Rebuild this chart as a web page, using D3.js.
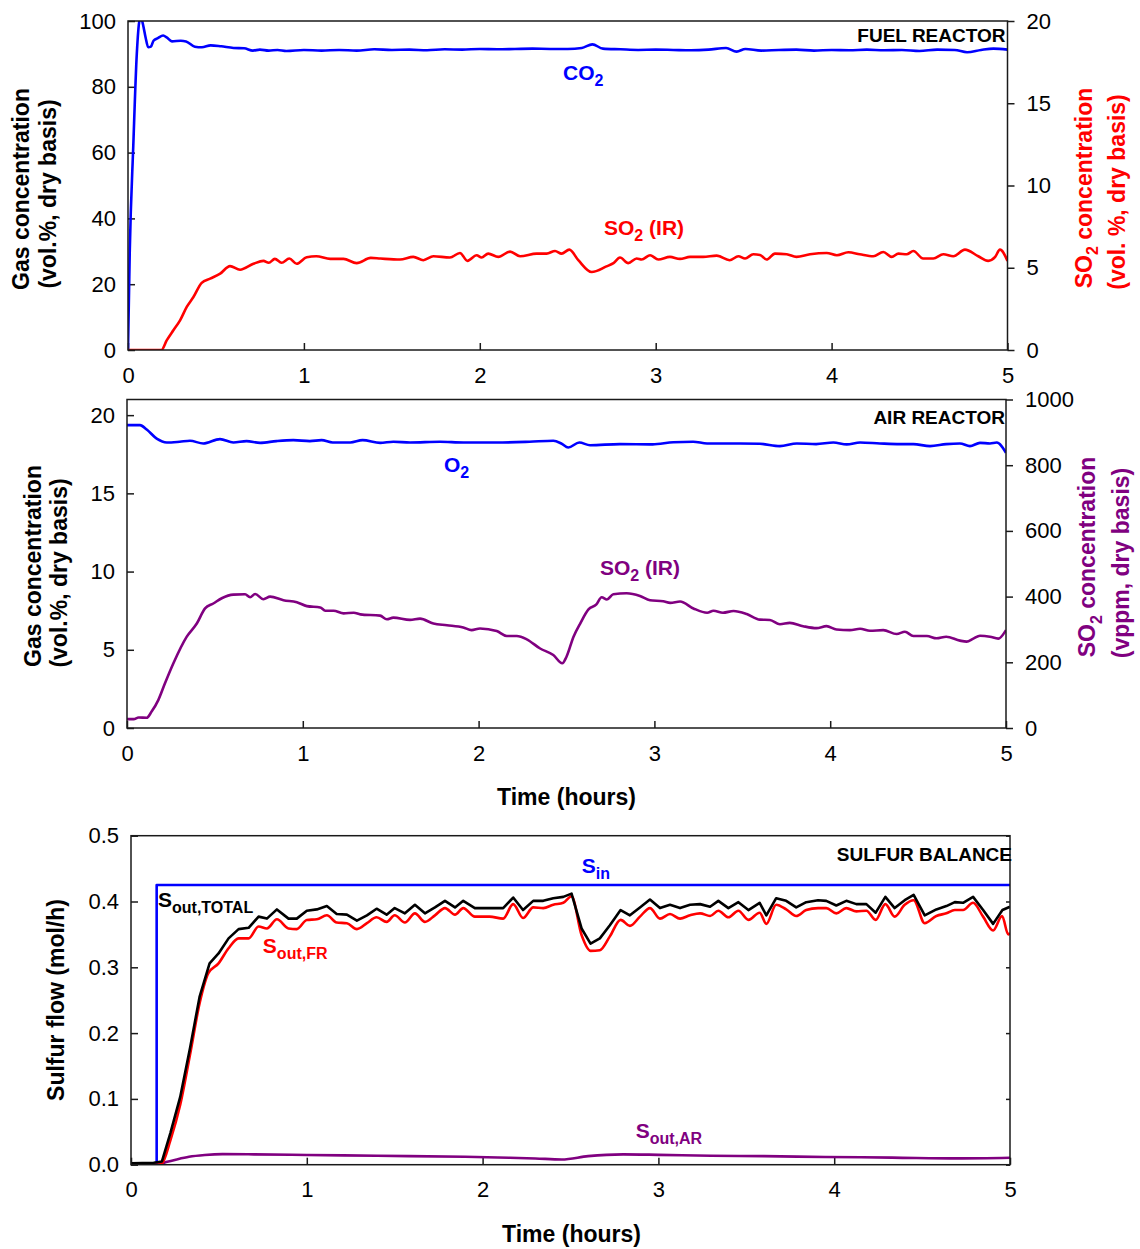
<!DOCTYPE html>
<html><head><meta charset="utf-8">
<script src="https://cdn.jsdelivr.net/npm/d3@7"></script>
<style>body{margin:0;background:#fff} svg{display:block}</style>
</head><body><svg id="c" width="1140" height="1249"></svg>
<script>
// ---------- DATA (time in hours) ----------
const xTicks = [0,1,2,3,4,5];
const fuelLeftTicks = [0,20,40,60,80,100];
const fuelRightTicks = [0,5,10,15,20];
const airLeftTicks = [0,5,10,15,20];
const airRightTicks = [0,200,400,600,800,1000];
const sulfurTicks = [0,0.1,0.2,0.3,0.4,0.5];

// Fuel reactor CO2 (vol.%, left axis)
const co2FR = [[0,0],[0.01,30],[0.03,62],[0.05,90],[0.065,100],[0.075,101],[0.085,99],[0.1,95],[0.115,92],[0.13,92.2],[0.145,94],[0.17,94.8],[0.2,95.6],[0.22,95],[0.25,93.8],[0.3,94],[0.33,93.8],[0.38,92.2],[0.42,92],[0.47,92.6],[0.53,92.3],[0.6,91.8],[0.66,91.7],[0.71,91.0],[0.75,91.3],[0.8,91.0],[0.85,91.2],[0.9,90.9],[1.0,91.2],[1.1,91.0],[1.2,91.2],[1.3,91.0],[1.4,91.4],[1.5,91.2],[1.6,91.3],[1.7,91.1],[1.8,91.4],[1.9,91.3],[2.0,91.5],[2.1,91.4],[2.2,91.5],[2.3,91.6],[2.4,91.5],[2.5,91.5],[2.58,91.8],[2.64,92.9],[2.7,91.6],[2.8,91.4],[2.9,91.2],[3.0,91.3],[3.1,91.2],[3.2,91.1],[3.3,91.3],[3.4,91.8],[3.46,90.7],[3.51,91.5],[3.6,91.0],[3.7,91.2],[3.8,91.3],[3.9,91.0],[4.0,91.2],[4.1,91.1],[4.2,91.3],[4.3,91.1],[4.4,91.2],[4.5,90.9],[4.6,91.3],[4.7,91.2],[4.77,90.5],[4.85,91.2],[4.92,91.6],[5.0,91.3]];
// Fuel reactor SO2 (vol.%, right axis)
const so2FR = [[0,0],[0.19,0],[0.22,0.58],[0.258,1.2],[0.296,1.8],[0.334,2.62],[0.372,3.22],[0.419,4.08],[0.467,4.34],[0.524,4.64],[0.58,5.1],[0.637,4.88],[0.713,5.24],[0.77,5.42],[0.8,5.3],[0.835,5.54],[0.873,5.3],[0.917,5.56],[0.959,5.24],[1.016,5.64],[1.07,5.7],[1.15,5.54],[1.225,5.54],[1.3,5.28],[1.38,5.6],[1.435,5.56],[1.546,5.5],[1.622,5.66],[1.679,5.46],[1.736,5.7],[1.83,5.62],[1.887,5.9],[1.93,5.42],[1.982,5.76],[2.01,5.62],[2.048,5.86],[2.105,5.66],[2.172,5.98],[2.229,5.7],[2.323,5.86],[2.38,5.86],[2.428,6.02],[2.465,5.86],[2.509,6.1],[2.56,5.46],[2.636,4.74],[2.72,5.08],[2.76,5.28],[2.797,5.62],[2.844,5.28],[2.892,5.56],[2.92,5.5],[2.968,5.76],[3.015,5.5],[3.081,5.66],[3.138,5.54],[3.195,5.66],[3.27,5.66],[3.347,5.74],[3.42,5.46],[3.47,5.7],[3.508,5.56],[3.555,5.82],[3.593,5.78],[3.63,5.5],[3.678,5.86],[3.745,5.82],[3.8,5.66],[3.877,5.82],[3.972,5.9],[4.03,5.76],[4.095,5.94],[4.16,5.82],[4.237,5.7],[4.294,5.96],[4.342,5.66],[4.38,5.86],[4.427,5.82],[4.465,6.02],[4.52,5.56],[4.578,5.56],[4.635,5.82],[4.692,5.7],[4.758,6.1],[4.834,5.7],[4.89,5.42],[4.93,5.66],[4.957,6.1],[5.0,5.42]];
// Air reactor O2 (vol.%, left axis)
const o2AR = [[0,19.36],[0.074,19.36],[0.112,19.08],[0.169,18.5],[0.226,18.25],[0.3,18.3],[0.358,18.36],[0.434,18.19],[0.529,18.47],[0.605,18.25],[0.68,18.34],[0.757,18.23],[0.85,18.34],[0.946,18.4],[1.04,18.34],[1.107,18.4],[1.17,18.25],[1.27,18.25],[1.34,18.4],[1.44,18.23],[1.515,18.3],[1.61,18.25],[1.78,18.3],[1.913,18.25],[2.103,18.25],[2.29,18.3],[2.425,18.36],[2.47,18.19],[2.51,17.93],[2.573,18.25],[2.634,18.08],[2.804,18.15],[2.99,18.13],[3.108,18.27],[3.22,18.3],[3.3,18.19],[3.487,18.19],[3.6,18.17],[3.714,18.02],[3.81,18.19],[3.92,18.15],[4.018,18.25],[4.094,18.13],[4.17,18.25],[4.283,18.19],[4.397,18.15],[4.473,18.15],[4.568,18.02],[4.66,18.15],[4.738,18.19],[4.795,18.02],[4.852,18.23],[4.909,18.19],[4.947,18.25],[5.0,17.59]];
// Air reactor SO2 (vppm, right axis)
const so2AR = [[0,27],[0.038,27],[0.066,32],[0.112,31],[0.14,50],[0.178,85],[0.216,136],[0.264,197],[0.34,278],[0.397,318],[0.444,364],[0.491,379],[0.539,395],[0.605,406],[0.672,407],[0.7,398],[0.729,408],[0.776,392],[0.814,400],[0.89,389],[0.966,383],[1.023,371],[1.099,367],[1.128,357],[1.175,357],[1.232,349],[1.29,351],[1.327,346],[1.44,342],[1.478,331],[1.515,336],[1.61,329],[1.667,333],[1.743,318],[1.82,313],[1.913,306],[1.96,298],[2.008,303],[2.103,295],[2.16,280],[2.217,280],[2.274,270],[2.35,242],[2.425,222],[2.476,197],[2.5,217],[2.54,278],[2.578,318],[2.625,361],[2.67,376],[2.7,398],[2.73,391],[2.766,407],[2.842,410],[2.918,402],[2.975,389],[3.05,386],[3.09,381],[3.146,385],[3.222,364],[3.3,351],[3.336,357],[3.39,351],[3.45,356],[3.525,347],[3.6,330],[3.657,329],[3.714,316],[3.77,320],[3.846,310],[3.922,304],[3.979,310],[4.036,300],[4.112,298],[4.17,302],[4.226,296],[4.302,298],[4.378,286],[4.425,293],[4.473,280],[4.55,280],[4.605,273],[4.66,278],[4.738,266],[4.776,263],[4.814,272],[4.852,281],[4.909,278],[4.956,272],[5.0,298]];
// Sulfur balance (mol/h)
const sIn = [[0,0],[0.146,0],[0.146,0.425],[5,0.425]];
const sOutTotal = [[0,0.002],[0.129,0.003],[0.176,0.005],[0.224,0.048],[0.28,0.103],[0.337,0.179],[0.39,0.255],[0.447,0.306],[0.498,0.321],[0.555,0.344],[0.612,0.358],[0.669,0.36],[0.726,0.377],[0.773,0.374],[0.83,0.388],[0.896,0.374],[0.943,0.374],[1.0,0.386],[1.057,0.388],[1.114,0.393],[1.17,0.381],[1.228,0.38],[1.285,0.371],[1.342,0.379],[1.397,0.389],[1.454,0.38],[1.5,0.39],[1.558,0.382],[1.615,0.395],[1.672,0.382],[1.729,0.391],[1.786,0.401],[1.843,0.391],[1.89,0.401],[1.956,0.39],[2.04,0.39],[2.117,0.39],[2.174,0.406],[2.23,0.387],[2.288,0.401],[2.345,0.401],[2.402,0.405],[2.459,0.407],[2.506,0.412],[2.563,0.359],[2.614,0.336],[2.667,0.344],[2.724,0.364],[2.785,0.387],[2.838,0.379],[2.895,0.391],[2.952,0.403],[3.009,0.39],[3.066,0.395],[3.123,0.39],[3.18,0.395],[3.237,0.396],[3.294,0.392],[3.341,0.401],[3.398,0.39],[3.455,0.399],[3.512,0.387],[3.576,0.398],[3.614,0.379],[3.67,0.405],[3.727,0.401],[3.784,0.391],[3.841,0.399],[3.908,0.402],[3.955,0.401],[4.012,0.394],[4.069,0.401],[4.126,0.396],[4.183,0.396],[4.236,0.383],[4.291,0.407],[4.344,0.39],[4.401,0.402],[4.452,0.41],[4.515,0.379],[4.581,0.388],[4.638,0.393],[4.686,0.399],[4.733,0.398],[4.79,0.407],[4.847,0.387],[4.904,0.366],[4.957,0.387],[5.0,0.392]];
const sOutFR = [[0,0],[0.15,0],[0.176,0.002],[0.224,0.037],[0.28,0.091],[0.337,0.169],[0.39,0.245],[0.44,0.291],[0.498,0.306],[0.555,0.329],[0.612,0.344],[0.669,0.344],[0.726,0.362],[0.773,0.359],[0.83,0.373],[0.896,0.359],[0.943,0.358],[1.0,0.372],[1.057,0.373],[1.114,0.379],[1.17,0.368],[1.228,0.367],[1.285,0.358],[1.342,0.367],[1.397,0.376],[1.454,0.369],[1.5,0.379],[1.558,0.368],[1.615,0.382],[1.672,0.369],[1.729,0.379],[1.786,0.39],[1.843,0.38],[1.89,0.39],[1.956,0.377],[2.04,0.377],[2.117,0.374],[2.174,0.396],[2.23,0.375],[2.288,0.391],[2.345,0.39],[2.402,0.395],[2.459,0.398],[2.506,0.408],[2.563,0.349],[2.614,0.325],[2.667,0.326],[2.724,0.347],[2.785,0.372],[2.838,0.363],[2.895,0.377],[2.952,0.39],[3.009,0.374],[3.066,0.381],[3.123,0.374],[3.18,0.379],[3.237,0.382],[3.294,0.378],[3.341,0.386],[3.398,0.376],[3.455,0.386],[3.512,0.372],[3.576,0.383],[3.614,0.366],[3.67,0.395],[3.727,0.388],[3.784,0.378],[3.841,0.387],[3.908,0.39],[3.955,0.39],[4.012,0.382],[4.069,0.39],[4.126,0.385],[4.183,0.386],[4.236,0.372],[4.291,0.396],[4.344,0.377],[4.401,0.395],[4.452,0.402],[4.515,0.367],[4.581,0.378],[4.638,0.382],[4.686,0.387],[4.733,0.387],[4.79,0.398],[4.847,0.377],[4.904,0.356],[4.955,0.378],[4.99,0.35],[5.0,0.352]];
const sOutAR = [[0,0],[0.15,0],[0.2,0.004],[0.26,0.008],[0.33,0.012],[0.42,0.0147],[0.52,0.016],[0.7,0.0157],[1.0,0.0148],[1.4,0.0135],[1.9,0.012],[2.15,0.0106],[2.3,0.0095],[2.45,0.008],[2.6,0.013],[2.8,0.0157],[3.0,0.015],[3.3,0.0135],[3.6,0.013],[3.95,0.0117],[4.33,0.0108],[4.7,0.0096],[5.0,0.0106]];

// ---------- DRAWING ----------
const svg = d3.select('#c');
const F = "'Liberation Sans', Arial, Helvetica, sans-serif";
const BLUE = '#0000ff', RED = '#ff0000', PURPLE = '#800080', AX = '#1a1a1a';

function styleAxis(g){
  g.select('.domain').remove();
  g.selectAll('.tick line').attr('stroke', AX).attr('stroke-width', 1.5);
  g.selectAll('.tick text').attr('font-family', F).attr('font-size', 22).attr('fill', '#000');
}

function richText(parent, parts, size, sub){
  let prevSub = false;
  parts.forEach(([t, s]) => {
    const ts = parent.append('tspan').text(t).attr('font-size', s ? sub : size);
    if (s && !prevSub) ts.attr('dy', size*0.3);
    if (!s && prevSub) ts.attr('dy', -size*0.3);
    prevSub = s;
  });
}

function label(g, x, y, parts, color, anchor, size){
  const t = g.append('text').attr('x', x).attr('y', y).attr('fill', color)
    .attr('font-family', F).attr('font-weight', 'bold').attr('text-anchor', anchor || 'start');
  richText(t, parts, size || 21, 16);
  return t;
}

function vtitle(x, y, parts, color, size){
  const t = svg.append('text').attr('transform', `translate(${x},${y}) rotate(-90)`)
    .attr('fill', color).attr('font-family', F).attr('font-weight', 'bold')
    .attr('text-anchor', 'middle');
  richText(t, parts, size || 23, 16);
  return t;
}

function panel(c){
  const x = d3.scaleLinear().domain([0,5]).range([c.l, c.r]);
  const yL = d3.scaleLinear().domain(c.yL).range([c.b, c.t]);
  const yR = c.yR ? d3.scaleLinear().domain(c.yR).range([c.b, c.t]) : null;
  const g = svg.append('g');
  const id = 'clip' + c.id;
  svg.append('clipPath').attr('id', id).append('rect')
    .attr('x', c.l).attr('y', c.t).attr('width', c.r - c.l).attr('height', c.b - c.t);

  g.append('g').attr('transform', `translate(0,${c.b})`)
    .call(d3.axisBottom(x).tickValues(xTicks).tickSize(-7).tickPadding(17).tickFormat(d3.format('d')))
    .call(styleAxis);
  g.append('g').attr('transform', `translate(${c.l},0)`)
    .call(d3.axisLeft(yL).tickValues(c.yLt).tickSize(-7).tickPadding(12).tickFormat(c.fmtL))
    .call(styleAxis);
  if (yR) {
    g.append('g').attr('transform', `translate(${c.r},0)`)
      .call(d3.axisRight(yR).tickValues(c.yRt).tickSize(7).tickPadding(12).tickFormat(d3.format('d')))
      .call(styleAxis);
  } else {
    g.append('g').attr('transform', `translate(${c.r},0)`)
      .call(d3.axisRight(yL).tickValues(c.yLt).tickSize(-4).tickFormat(''))
      .call(styleAxis);
  }

  const lines = g.append('g').attr('clip-path', `url(#${id})`);
  c.series.forEach(s => {
    const ys = s.axis === 'R' ? yR : yL;
    lines.append('path').datum(s.data)
      .attr('fill', 'none').attr('stroke', s.color).attr('stroke-width', 2.6)
      .attr('stroke-linejoin', 'round')
      .attr('d', d3.line().x(d => x(d[0])).y(d => ys(d[1])).curve(s.curve || d3.curveLinear));
  });

  g.append('rect').attr('x', c.l).attr('y', c.t).attr('width', c.r - c.l).attr('height', c.b - c.t)
    .attr('fill', 'none').attr('stroke', AX).attr('stroke-width', 1.5);

  return {x, yL, yR, g};
}

// Panel 1: fuel reactor
const p1 = panel({id:1, l:128, r:1007.5, t:21, b:350, yL:[0,100], yLt:fuelLeftTicks, fmtL:d3.format('d'),
  yR:[0,20], yRt:fuelRightTicks,
  series:[
    {data:co2FR, color:BLUE, curve:d3.curveMonotoneX},
    {data:so2FR, color:RED, axis:'R', curve:d3.curveMonotoneX}
  ]});
label(p1.g, p1.x(2.473), p1.yL(82.1), [['CO',0],['2',1]], BLUE);
label(p1.g, p1.x(2.706), p1.yL(35.0), [['SO',0],['2',1],[' (IR)',0]], RED);
label(p1.g, p1.x(5) - 2, p1.yL(93.6), [['FUEL REACTOR',0]], '#000', 'end', 19);

// Panel 2: air reactor
const p2 = panel({id:2, l:127, r:1006, t:399.5, b:728, yL:[0,21], yLt:airLeftTicks, fmtL:d3.format('d'),
  yR:[0,1000], yRt:airRightTicks,
  series:[
    {data:o2AR, color:BLUE, curve:d3.curveMonotoneX},
    {data:so2AR, color:PURPLE, axis:'R', curve:d3.curveMonotoneX}
  ]});
label(p2.g, p2.x(1.803), p2.yL(16.36), [['O',0],['2',1]], BLUE);
label(p2.g, p2.x(2.69), p2.yL(9.78), [['SO',0],['2',1],[' (IR)',0]], PURPLE);
label(p2.g, p2.x(5) - 1, p2.yL(19.45), [['AIR REACTOR',0]], '#000', 'end', 19);

// Panel 3: sulfur balance
const p3 = panel({id:3, l:131, r:1010, t:835.7, b:1164.7, yL:[0,0.5], yLt:sulfurTicks, fmtL:d3.format('.1f'),
  series:[
    {data:sIn, color:BLUE},
    {data:sOutAR, color:PURPLE, curve:d3.curveMonotoneX},
    {data:sOutFR, color:RED, curve:d3.curveMonotoneX},
    {data:sOutTotal, color:'#000'}
  ]});
label(p3.g, p3.x(2.564), p3.yL(0.4435), [['S',0],['in',1]], BLUE);
label(p3.g, p3.x(0.1535), p3.yL(0.3918), [['S',0],['out,TOTAL',1]], '#000');
label(p3.g, p3.x(0.75), p3.yL(0.3218), [['S',0],['out,FR',1]], RED);
label(p3.g, p3.x(2.871), p3.yL(0.0406), [['S',0],['out,AR',1]], PURPLE);
label(p3.g, p3.x(5) + 2, p3.yL(0.4623), [['SULFUR BALANCE',0]], '#000', 'end', 19);

// Axis titles
vtitle(28.5, 189, [['Gas concentration',0]], '#000');
vtitle(55.5, 194, [['(vol.%, dry basis)',0]], '#000');
vtitle(1091.5, 188, [['SO',0],['2',1],[' concentration',0]], RED);
vtitle(1125, 192, [['(vol. %, dry basis)',0]], RED);

vtitle(40.5, 566, [['Gas concentration',0]], '#000');
vtitle(67, 573, [['(vol.%, dry basis)',0]], '#000');
vtitle(1095, 557, [['SO',0],['2',1],[' concentration',0]], PURPLE);
vtitle(1128.5, 563, [['(vppm, dry basis)',0]], PURPLE);

vtitle(63.5, 1000, [['Sulfur flow (mol/h)',0]], '#000');

svg.append('text').attr('x', 566.5).attr('y', 804.5).attr('text-anchor', 'middle')
  .attr('font-family', F).attr('font-weight', 'bold').attr('font-size', 23).text('Time (hours)');
svg.append('text').attr('x', 571.5).attr('y', 1241.5).attr('text-anchor', 'middle')
  .attr('font-family', F).attr('font-weight', 'bold').attr('font-size', 23).text('Time (hours)');
</script></body></html>
